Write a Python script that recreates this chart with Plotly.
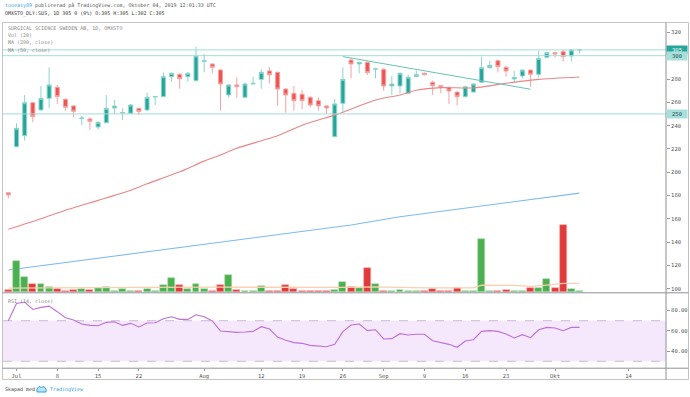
import numpy as np
import pandas as pd
import plotly.graph_objects as go

# ---------------- data ----------------
dates = pd.bdate_range("2019-06-28", "2019-10-04").strftime("%Y-%m-%d").tolist()

opens = [182.4, 221.9, 231.4, 259.7, 253.4, 263.4, 272.9, 262.6, 256.9, 246.0, 245.7,
         238.8, 242.5, 255.1, 250.8, 250.6, 254.8, 253.4, 264.5, 264.9, 282.0,
         284.0, 282.0, 278.6, 295.0, 292.9, 287.8, 266.3, 274.9, 264.3, 275.7,
         279.7, 286.9, 285.7, 271.4, 267.7, 266.9, 264.3, 261.4, 256.9, 230.5,
         259.1, 296.3, 292.9, 294.3, 288.5, 288.3, 274.0, 274.0, 267.7, 282.0,
         284.9, 277.2, 274.3, 272.8, 268.8, 264.8, 268.8, 277.2, 289.7, 295.7,
         290.0, 280.0, 282.6, 287.7, 284.0, 298.6, 302.6, 303.5, 299.7, 305.0]
highs = [182.5, 242.0, 266.3, 260.3, 274.0, 290.0, 274.9, 263.4, 257.5, 248.3, 247.1,
         243.7, 266.3, 262.0, 254.8, 258.6, 255.1, 268.3, 265.4, 285.7, 285.7,
         284.9, 286.0, 307.8, 301.5, 293.0, 288.0, 275.5, 281.5, 276.9, 282.0,
         288.3, 290.0, 286.3, 272.0, 274.0, 270.6, 265.0, 264.3, 257.5, 262.9,
         290.0, 297.8, 294.9, 294.9, 289.8, 289.2, 282.6, 285.5, 283.7, 287.2,
         285.5, 278.6, 274.9, 273.4, 269.1, 274.0, 276.3, 299.2, 295.7, 296.3,
         291.1, 286.9, 288.3, 287.7, 304.3, 302.9, 303.5, 304.9, 305.5, 305.0]
lows = [177.6, 221.4, 227.1, 242.8, 253.0, 254.8, 258.6, 252.6, 247.1, 240.3, 236.2,
        236.8, 242.0, 250.0, 244.8, 250.0, 249.1, 252.8, 257.7, 264.3, 277.7,
        271.7, 277.7, 277.7, 285.8, 284.9, 252.8, 264.3, 264.0, 264.0, 275.7,
        271.7, 276.3, 257.1, 251.1, 252.8, 254.0, 255.7, 252.8, 250.6, 230.0,
        252.0, 280.6, 284.9, 283.5, 280.6, 270.0, 266.3, 267.7, 267.1, 282.0,
        283.2, 266.3, 267.7, 258.6, 257.1, 264.3, 268.6, 276.9, 289.0, 285.7,
        282.0, 277.2, 280.6, 273.4, 281.2, 298.3, 298.3, 294.9, 294.9, 302.0]
closes = [180.5, 237.7, 259.7, 247.7, 263.4, 274.9, 264.9, 255.7, 252.3, 246.5, 243.7,
          242.8, 254.8, 256.8, 251.2, 257.7, 252.0, 264.3, 265.0, 282.0, 284.9,
          280.3, 284.9, 299.8, 295.8, 290.0, 275.7, 274.9, 273.4, 275.7, 276.3,
          285.7, 283.7, 271.4, 266.3, 261.4, 261.4, 257.7, 256.9, 255.1, 258.6,
          279.7, 292.9, 294.3, 285.5, 288.8, 274.0, 275.7, 284.9, 281.5, 283.7,
          283.7, 274.3, 272.6, 269.7, 264.8, 273.4, 275.7, 289.7, 291.7, 290.6,
          286.9, 281.4, 287.7, 284.0, 297.7, 302.6, 301.5, 299.2, 305.0, 305.0]
volume = [5, 93, 45, 23, 22, 15, 7, 3, 4, 7, 6,
          11, 13, 1, 7, 1, 1, 8, 1, 20, 42,
          19, 7, 23, 8, 3, 19, 50, 5, 2, 1,
          16, 3, 3, 20, 8, 3, 1, 2, 2, 4,
          29, 14, 11, 71, 23, 3, 3, 5, 3, 1,
          2, 8, 1, 3, 10, 3, 2, 158, 2, 1,
          5, 1, 2, 12, 12, 37, 10, 200, 8, 1]
rsi = [70.0, 87.0, 88.4, 81.1, 83.1, 84.4, 78.9, 73.0, 70.7, 66.7, 65.4,
       65.1, 68.4, 69.0, 65.4, 67.4, 63.8, 67.7, 68.0, 72.0, 73.9,
       71.3, 71.3, 75.9, 73.9, 69.7, 59.8, 58.9, 58.5, 58.9, 59.5,
       64.1, 61.8, 53.9, 50.7, 48.4, 47.7, 45.7, 45.1, 44.4, 46.7,
       59.2, 65.7, 66.7, 60.2, 61.1, 52.0, 52.3, 57.2, 55.9, 56.6,
       56.6, 50.3, 48.7, 46.7, 43.8, 50.0, 51.3, 59.5, 60.2, 59.5,
       56.9, 53.0, 56.2, 53.3, 61.1, 63.4, 62.8, 60.2, 63.4, 63.4]

# moving averages read at a few dates
ma50_dates = ["2019-06-28", "2019-07-04", "2019-07-09", "2019-07-15", "2019-07-19",
              "2019-07-23", "2019-07-29", "2019-08-01", "2019-08-05", "2019-08-07",
              "2019-08-14", "2019-08-19", "2019-08-23", "2019-08-26", "2019-08-30",
              "2019-09-04", "2019-09-06", "2019-09-11", "2019-09-17", "2019-09-23",
              "2019-09-27", "2019-10-04"]
ma50_vals = [151.0, 160.0, 167.3, 175.8, 184.5, 190.0, 200.3, 209.5, 214.8, 220.6,
             231.2, 240.3, 249.0, 251.5, 262.0, 266.3, 270.3, 272.6, 272.3, 276.3,
             279.7, 281.7]
ma200_dates = ["2019-06-28", "2019-08-19", "2019-08-27", "2019-09-04", "2019-10-04"]
ma200_vals = [116.0, 149.0, 154.7, 161.8, 182.0]
vma_dates = ["2019-06-28", "2019-07-08", "2019-07-22", "2019-08-05", "2019-08-26",
             "2019-08-30", "2019-09-09", "2019-09-17", "2019-09-18", "2019-09-24",
             "2019-09-26", "2019-09-30", "2019-10-02", "2019-10-04"]
vma_vals = [11, 11, 13, 14, 13, 15, 12, 12, 20, 19, 16, 20, 25, 25]

# drawings
hlines = [305, 300, 250]
trend_dates = ["2019-08-26", "2019-09-26"]
trend_vals = [299.2, 271.2]

tick_dates = ["2019-07-01", "2019-07-08", "2019-07-15", "2019-07-22", "2019-08-01",
              "2019-08-12", "2019-08-19", "2019-08-26", "2019-09-02", "2019-09-09",
              "2019-09-16", "2019-09-23", "2019-10-01", "2019-10-14"]
tick_text = ["Jul", "8", "15", "22", "Aug", "12", "19", "26", "Sep", "9", "16", "23", "Okt", "14"]
price_ticks = [100, 120, 140, 160, 180, 200, 220, 240, 260, 280, 320]
rsi_ticks = [40, 60, 80]

# ---------------- helpers ----------------
ANCHOR = "2019-07-01"


def pos(d):
    return int(np.busday_count(ANCHOR, d))


x = [pos(d) for d in dates]
W, H = 690, 397
ML, MR, MT, MB = 3, 24, 23, 29
PW, PH = W - ML - MR, H - MT - MB


def px(X):
    return (X - ML) / PW


def py(Y):
    return (H - MB - Y) / PH


FONT = "DejaVu Sans Mono"
UP, DN = "#26a69a", "#ef5350"
UPW, DNW = "#8fd4cc", "#f5a3a3"
up_flags = [c >= o for o, c in zip(opens, closes)]
vol_col = ["#4caf50" if u else "#e03a3a" for u in up_flags]
vol_edge = ["#a8dbaa" if u else "#f2a5a5" for u in up_flags]

fig = go.Figure()
fig.add_trace(go.Bar(x=x, y=volume, width=0.85, xaxis="x", yaxis="y3",
                     marker=dict(color=vol_col, line=dict(color=vol_edge, width=0.6)),
                     hoverinfo="skip"))
fig.add_trace(go.Scatter(x=[pos(d) for d in vma_dates], y=vma_vals, mode="lines",
                         line=dict(color="#fccfae", width=1.3), xaxis="x", yaxis="y3",
                         hoverinfo="skip"))
fig.add_trace(go.Scatter(x=[pos(d) for d in ma200_dates], y=ma200_vals, mode="lines",
                         line=dict(color="#7dbaf2", width=1.1), xaxis="x", yaxis="y"))
fig.add_trace(go.Scatter(x=[pos(d) for d in ma50_dates], y=ma50_vals, mode="lines",
                         line=dict(color="#e98686", width=1.1, shape="spline", smoothing=0.6),
                         xaxis="x", yaxis="y"))
fig.add_trace(go.Candlestick(x=x, open=opens, high=highs, low=lows, close=closes,
                             xaxis="x", yaxis="y", whiskerwidth=0,
                             increasing=dict(line=dict(color=UPW, width=1), fillcolor=UP),
                             decreasing=dict(line=dict(color=DNW, width=1), fillcolor=DN)))
fig.add_trace(go.Scatter(x=x, y=rsi, mode="lines", line=dict(color="#bd6fda", width=1.1),
                         xaxis="x", yaxis="y2"))

shapes = []
# RSI band
shapes.append(dict(type="rect", xref="paper", yref="y2", x0=0, x1=1, y0=30, y1=70,
                   fillcolor="#f5e8fd", line=dict(width=0), layer="below"))
for lv in (70, 30):
    shapes.append(dict(type="line", xref="paper", yref="y2", x0=0, x1=1, y0=lv, y1=lv,
                       line=dict(color="#c9bcd3", width=1, dash="dash"), layer="below"))
# horizontal drawings
for lv in hlines:
    shapes.append(dict(type="line", xref="paper", yref="y", x0=0, x1=1, y0=lv, y1=lv,
                       line=dict(color="#a3dcd7", width=1)))
shapes.append(dict(type="line", xref="x", yref="y", x0=pos(trend_dates[0]), y0=trend_vals[0],
                   x1=pos(trend_dates[1]), y1=trend_vals[1], line=dict(color="#67c2b3", width=1)))
# frame & separators
frame = "#c4c4c4"
axc = "#8e9099"
shapes.append(dict(type="rect", xref="paper", yref="paper", x0=px(2.5), x1=px(688.5),
                   y0=py(379.5), y1=py(22.5), line=dict(color=frame, width=1)))
shapes.append(dict(type="line", xref="paper", yref="paper", x0=1, x1=1, y0=py(379.5), y1=py(22.5),
                   line=dict(color=axc, width=1)))
shapes.append(dict(type="line", xref="paper", yref="paper", x0=px(2.5), x1=px(688.5),
                   y0=py(292.8), y1=py(292.8), line=dict(color=axc, width=1)))
shapes.append(dict(type="line", xref="paper", yref="paper", x0=px(2.5), x1=px(688.5),
                   y0=py(368.2), y1=py(368.2), line=dict(color=axc, width=1)))
# TradingView logo (small cloud)
shapes.append(dict(type="path", xref="paper", yref="paper",
                   path=f"M {px(37)} {py(392)} L {px(46)} {py(392)} L {px(46)} {py(389)} "
                        f"L {px(44)} {py(386.5)} L {px(41.5)} {py(387.5)} L {px(39)} {py(386.5)} "
                        f"L {px(37)} {py(389)} Z",
                   line=dict(color="#2fa1df", width=1), fillcolor="#bfe3f7"))

ann = []


def txt(X, Y, s, size=5, color="#666", anchor="left"):
    ann.append(dict(xref="paper", yref="paper", x=px(X), y=py(Y), text=s, showarrow=False,
                    xanchor=anchor, yanchor="middle", font=dict(family=FONT, size=size, color=color)))


txt(3, 6, '<span style="color:#3aa7e0">tooeasy89</span> publicerad på TradingView.com, '
          'Oktober 04, 2019 12:01:33 UTC', color="#555")
txt(3, 14, "OMXSTO_DLY:SUS, 1D 305 0 (0%) O:305 H:305 L:302 C:305", color="#333")
txt(6, 27.7, "SURGICAL SCIENCE SWEDEN AB, 1D, OMXSTO", color="#8a8a8a")
txt(6, 34.7, "Vol (20)", color="#8a8a8a")
txt(6, 42.3, "MA (200, close)", color="#8a8a8a")
txt(6, 49.7, "MA (50, close)", color="#8a8a8a")
txt(6, 301, "RSI (14, close)", color="#8a8a8a")
txt(3, 389, "Skapad med", color="#444")
txt(48, 389, "TradingView", color="#2fa1df")

# price label boxes on the axis
for lv, bg, fc in [(305, "#26a69a", "#ffffff"), (300, "#a9dfdb", "#24504c"), (250, "#a9dfdb", "#24504c")]:
    ann.append(dict(xref="paper", yref="y", x=1, y=lv, text=str(lv), showarrow=False,
                    xanchor="left", yanchor="middle", xshift=0, bgcolor=bg, borderpad=1,
                    width=18, height=6, align="center",
                    font=dict(family=FONT, size=5.5, color=fc)))

fig.update_layout(
    width=W, height=H, margin=dict(l=ML, r=MR, t=MT, b=MB, autoexpand=False),
    paper_bgcolor="white", plot_bgcolor="white", showlegend=False, template="none",
    boxgap=0.3, bargap=0,
    font=dict(family=FONT, size=5, color="#555"),
    xaxis=dict(domain=[0, 1], range=[-1.654, 79.6], anchor="y2",
               rangeslider=dict(visible=False),
               tickvals=[pos(d) for d in tick_dates], ticktext=tick_text,
               ticks="outside", ticklen=2, tickcolor="#999", showgrid=False, zeroline=False,
               showline=False, tickfont=dict(family=FONT, size=5.5, color="#555"), automargin=False),
    yaxis=dict(domain=[py(292.8), 1], range=[96.48, 328.07], side="right", anchor="x",
               tickvals=price_ticks, ticks="outside", ticklen=3, tickcolor="#999",
               showgrid=False, zeroline=False, showline=False, automargin=False,
               tickfont=dict(family=FONT, size=5.5, color="#555")),
    yaxis2=dict(domain=[0, py(292.8)], range=[23.4, 97.5], side="right", anchor="x",
                tickvals=rsi_ticks, ticktext=[f"{v:.2f}" for v in rsi_ticks],
                ticks="outside", ticklen=3, tickcolor="#999",
                showgrid=False, zeroline=False, showline=False, automargin=False,
                tickfont=dict(family=FONT, size=5.5, color="#555")),
    yaxis3=dict(overlaying="y", range=[-3, 807], visible=False, showgrid=False, zeroline=False),
    shapes=shapes, annotations=ann,
)

fig.write_html("out.html", config={"displayModeBar": False},
               post_script="document.body.style.margin='0';document.body.style.overflow='hidden';")
